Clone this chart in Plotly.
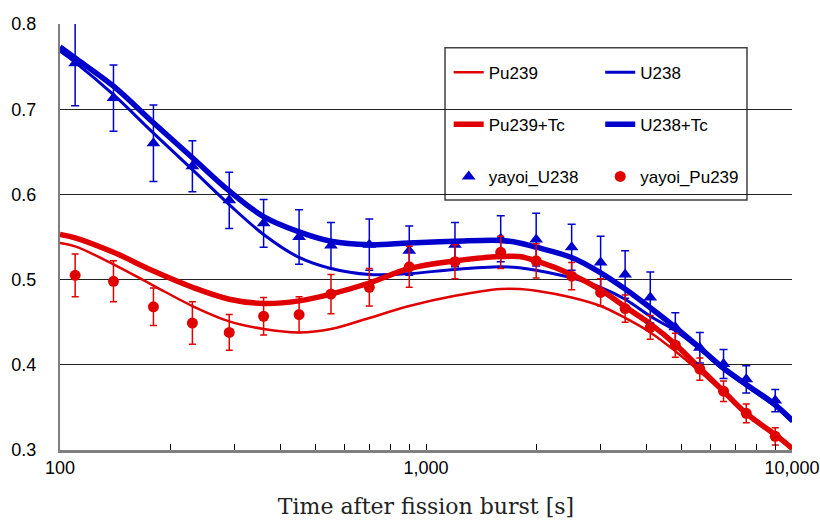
import plotly.graph_objects as go

# ---- data ----
t_curve = [100, 110, 140, 180, 230, 290, 360, 450, 550, 700, 900, 1200, 1600, 1800,
           2000, 2500, 3000, 3500, 4100, 4800, 5600, 6500, 7500, 9000, 10000]
pu239 = [0.543, 0.539, 0.518, 0.493, 0.469, 0.451, 0.442, 0.438, 0.442, 0.455, 0.469,
         0.481, 0.489, 0.489, 0.487, 0.479, 0.469, 0.455, 0.438, 0.416, 0.392, 0.367,
         0.342, 0.317, 0.301]
u238 = [0.768, 0.755, 0.717, 0.672, 0.629, 0.588, 0.553, 0.526, 0.513, 0.506, 0.507,
        0.512, 0.515, 0.514, 0.511, 0.502, 0.491, 0.477, 0.457, 0.440, 0.418, 0.394,
        0.375, 0.351, 0.333]
pu239_tc = [0.553, 0.549, 0.532, 0.510, 0.491, 0.477, 0.472, 0.475, 0.483, 0.496, 0.513,
            0.522, 0.527, 0.527, 0.522, 0.506, 0.488, 0.468, 0.448, 0.424, 0.396, 0.369,
            0.343, 0.318, 0.302]
u238_tc = [0.773, 0.760, 0.727, 0.684, 0.643, 0.604, 0.574, 0.556, 0.545, 0.541, 0.543,
           0.545, 0.546, 0.543, 0.538, 0.526, 0.508, 0.489, 0.467, 0.444, 0.420, 0.396,
           0.377, 0.353, 0.335]

t_meas = [110, 140, 180, 230, 290, 360, 450, 550, 700, 900, 1200, 1600, 2000, 2500,
          3000, 3500, 4100, 4800, 5600, 6500, 7500, 9000]
yayoi_u238 = [0.754, 0.713, 0.660, 0.633, 0.593, 0.566, 0.550, 0.540, 0.541, 0.534, 0.541,
              0.548, 0.547, 0.538, 0.520, 0.506, 0.479, 0.444, 0.420, 0.401, 0.383, 0.358]
yayoi_u238_err = [0.050, 0.039, 0.045, 0.030, 0.033, 0.028, 0.032, 0.027, 0.030, 0.029, 0.026,
                  0.027, 0.031, 0.027, 0.031, 0.028, 0.030, 0.017, 0.018, 0.017, 0.016, 0.013]
yayoi_pu239 = [0.505, 0.498, 0.468, 0.449, 0.438, 0.457, 0.459, 0.483, 0.491, 0.515, 0.521,
               0.532, 0.522, 0.504, 0.485, 0.466, 0.444, 0.423, 0.395, 0.369, 0.343, 0.316]
yayoi_pu239_err = [0.025, 0.024, 0.022, 0.025, 0.021, 0.022, 0.021, 0.023, 0.022, 0.024, 0.020,
                   0.019, 0.020, 0.016, 0.016, 0.016, 0.014, 0.014, 0.013, 0.012, 0.011, 0.010]

x_tickvals = [100, 200, 300, 400, 500, 600, 700, 800, 900, 1000, 2000, 3000, 4000, 5000,
              6000, 7000, 8000, 9000, 10000]
x_ticktext = ['100', '', '', '', '', '', '', '', '', '1,000', '', '', '', '', '', '', '', '', '10,000']

RED = '#E00000'
BLUE = '#0000CC'
FONT = 'Arial, Liberation Sans, sans-serif'

fig = go.Figure()
fig.add_trace(go.Scatter(x=t_curve, y=pu239, mode='lines', name='Pu239',
                         line=dict(color=RED, width=2.5, shape='spline'),
                         legend='legend', legendgroup='a'))
fig.add_trace(go.Scatter(x=t_curve, y=u238, mode='lines', name='U238',
                         line=dict(color=BLUE, width=3, shape='spline'),
                         legend='legend2', legendgroup='b'))
fig.add_trace(go.Scatter(x=t_curve, y=pu239_tc, mode='lines', name='Pu239+Tc',
                         line=dict(color=RED, width=5.5, shape='spline'),
                         legend='legend', legendgroup='c'))
fig.add_trace(go.Scatter(x=t_curve, y=u238_tc, mode='lines', name='U238+Tc',
                         line=dict(color=BLUE, width=5.5, shape='spline'),
                         legend='legend2', legendgroup='d'))
fig.add_trace(go.Scatter(x=t_meas, y=yayoi_u238, mode='markers', name='yayoi_U238',
                         marker=dict(symbol='triangle-up', size=12, color=BLUE),
                         error_y=dict(type='data', array=yayoi_u238_err, color=BLUE,
                                      thickness=1.5, width=4),
                         legend='legend', legendgroup='e'))
fig.add_trace(go.Scatter(x=t_meas, y=yayoi_pu239, mode='markers', name='yayoi_Pu239',
                         marker=dict(symbol='circle', size=11, color=RED),
                         error_y=dict(type='data', array=yayoi_pu239_err, color=RED,
                                      thickness=1.5, width=3.5),
                         legend='legend2', legendgroup='f'))

legend_common = dict(font=dict(family=FONT, size=17, color='black'),
                     bgcolor='rgba(0,0,0,0)', borderwidth=0, traceorder='grouped',
                     tracegroupgap=27, yanchor='top', xanchor='left', itemwidth=30)

fig.update_layout(
    width=820, height=523,
    margin=dict(l=60, r=28, t=24, b=73),
    paper_bgcolor='white', plot_bgcolor='white',
    showlegend=True,
    legend=dict(x=0.531, y=0.928, **legend_common),
    legend2=dict(x=0.738, y=0.928, **legend_common),
    shapes=[dict(type='rect', xref='paper', yref='paper', x0=0.526, x1=0.9385,
                 y0=0.587, y1=0.944, line=dict(color='#404040', width=1.5),
                 fillcolor='white', layer='below')],
    xaxis=dict(type='log', range=[2, 4], tickvals=x_tickvals, ticktext=x_ticktext,
               ticks='inside', ticklen=6, tickwidth=1.2, tickcolor='black',
               showgrid=False, showline=True, linecolor='#7f7f7f', linewidth=2.5,
               zeroline=False, automargin=False, ticklabelstandoff=0,
               tickfont=dict(family=FONT, size=18, color='black'),
               title=dict(text='Time after fission burst [s]',
                          font=dict(family='DejaVu Serif, serif', size=22, color='#222'),
                          standoff=22)),
    yaxis=dict(range=[0.3, 0.8], dtick=0.1, tick0=0.3, tickformat='.1f',
               showgrid=True, gridcolor='#222', gridwidth=1,
               showline=True, linecolor='#7f7f7f', linewidth=2,
               zeroline=False, ticks='', ticklen=0, automargin=False,
               ticklabelstandoff=18,
               tickfont=dict(family=FONT, size=18, color='black')),
)

fig.write_html('out.html', config={'displayModeBar': False},
               post_script="document.body.style.margin='0px';")
